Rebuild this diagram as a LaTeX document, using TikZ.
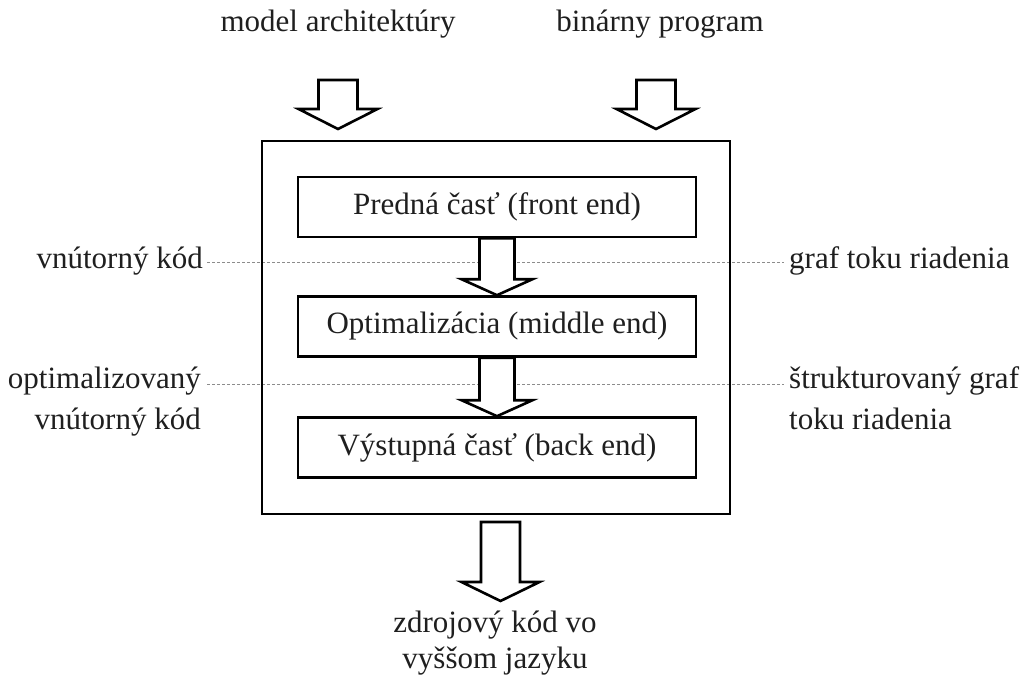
\documentclass[tikz,border=0pt]{standalone}
\usepackage{fontspec}
\setmainfont{Liberation Serif}
\usetikzlibrary{calc}
\newcommand\lblfont{\fontsize{31}{38}\selectfont}
\tikzset{
  stage/.style={draw, line width=2.6pt, minimum width=398pt, minimum height=60pt,
                inner sep=0pt, font=\lblfont, text=black!88},
  frame/.style={draw, line width=2.6pt, minimum width=468pt, minimum height=373pt, inner sep=0pt},
  fat/.style={draw, fill=white, line width=2.6pt, line join=miter},
  guide/.style={draw=black!45, line width=0.8pt, dash pattern=on 3pt off 2pt},
  lbl/.style={inner sep=0pt, font=\lblfont, text=black!88},
}
% hollow block arrow from #1 (top of shaft) down to #2 (tip);
% #3 = half shaft width, #4 = half head width, #5 = head length
\newcommand\blockarrow[5]{%
  \draw[fat] let \p1=(#1), \p2=(#2) in
    (\x2-#3,\y1) -- (\x2-#3,\y2+#5) -- (\x2-#4,\y2+#5) -- (\x2,\y2)
    -- (\x2+#4,\y2+#5) -- (\x2+#3,\y2+#5) -- (\x2+#3,\y1) -- cycle;}
\begin{document}
\begin{tikzpicture}[x=1pt, y=-1pt]
  \useasboundingbox (0,0) rectangle (1028,677);

  % side labels (base anchor of a two-line node sits on its last line)
  \node[lbl, anchor=base east] (l1) at (203,268) {vnútorný kód};
  \node[lbl, anchor=base west] (r1) at (789,268) {graf toku riadenia};
  \node[lbl, anchor=base east, align=right] (l2) at (201,429) {optimalizovaný\\[3pt]vnútorný kód};
  \node[lbl, anchor=base west, align=left] (r2) at (789,429) {štrukturovaný graf\\[3pt]toku riadenia};

  % dotted guides between the side labels (hidden behind the arrows)
  \draw[guide] ([shift={(4,-6)}]l1.base east) -- ([shift={(-5,-6)}]r1.base west);
  \draw[guide] ([shift={(6,-45)}]l2.base east) -- ([shift={(-5,-45)}]r2.base west);

  % decompiler frame and its stages
  \node[frame] (dec) at (496,327.5) {};
  \node[stage] (fe) at (497,207) {Predná časť (front end)};
  \node[stage] (me) at (497,326.5) {Optimalizácia (middle end)};
  \node[stage] (be) at (497,447.5) {Výstupná časť (back end)};

  \blockarrow{fe.south}{me.north}{17.5pt}{35.5pt}{16pt}
  \blockarrow{me.south}{be.north}{17.5pt}{35.5pt}{16pt}

  % inputs
  \node[lbl, anchor=base] (in1) at (338,32) {model architektúry};
  \node[lbl, anchor=base] (in2) at (660,32) {binárny program};
  \coordinate (a1s) at (338,80);  \coordinate (a1e) at (338,129);
  \coordinate (a2s) at (656,80);  \coordinate (a2e) at (656,129);
  \blockarrow{a1s}{a1e}{19.5pt}{39.5pt}{20pt}
  \blockarrow{a2s}{a2e}{19.5pt}{39.5pt}{20pt}

  % output
  \coordinate (os) at (500.5,522); \coordinate (oe) at (500.5,601);
  \blockarrow{os}{oe}{19.5pt}{39pt}{19pt}
  \node[lbl, anchor=base, align=center] (out) at (495,668) {zdrojový kód vo\\[-2pt]vyššom jazyku};
\end{tikzpicture}
\end{document}
